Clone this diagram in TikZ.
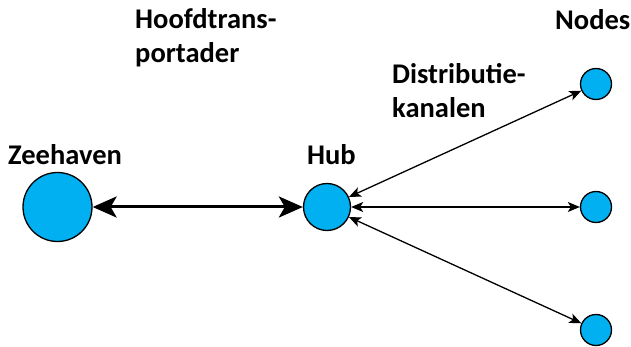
\documentclass[tikz,border=0pt]{standalone}
\usepackage{fontspec}
\setmainfont{Carlito}
\usetikzlibrary{arrows.meta}
\definecolor{hubblue}{HTML}{00B0F0}
\begin{document}
\begin{tikzpicture}[x=1pt,y=-1pt,
  place/.style={circle,draw=black,line width=1.3pt,fill=hubblue,inner sep=0pt},
  lbl/.style={font=\bfseries\fontsize{28.5}{34}\selectfont,inner sep=0pt,anchor=base west,align=left},
  trunk/.style={line width=3pt,{Stealth[length=24pt,width=21pt,inset=6pt]}-{Stealth[length=24pt,width=21pt,inset=6pt]}},
  branch/.style={line width=1.3pt,{Stealth[length=12pt,width=10pt,inset=3pt]}-{Stealth[length=12pt,width=10pt,inset=3pt]}}]
  \useasboundingbox (0,0) rectangle (631,347);
  % harbour, hub and distribution nodes
  \node[place,minimum size=69pt] (port) at (57.5,207) {};
  \node[place,minimum size=47pt] (hub) at (327,207) {};
  \node[place,minimum size=31pt] (n1) at (596,84) {};
  \node[place,minimum size=31pt] (n2) at (596,207) {};
  \node[place,minimum size=31pt] (n3) at (596,330) {};
  % labels (multi-line labels are placed by their last baseline)
  \node[lbl] (tport) at (8,165) {Zeehaven};
  \node[lbl] (thub) at (307,165) {Hub};
  \node[lbl] (tnodes) at (555,30) {Nodes};
  \node[lbl] (tmain) at (135,63) {Hoofdtrans-\\portader};
  \node[lbl] (tdist) at (392,118) {Distributie-\\kanalen};
  % connections
  \draw[trunk] (port) -- (hub);
  \draw[branch] (hub) -- (n1);
  \draw[branch] (hub) -- (n2);
  \draw[branch] (hub) -- (n3);
\end{tikzpicture}
\end{document}
